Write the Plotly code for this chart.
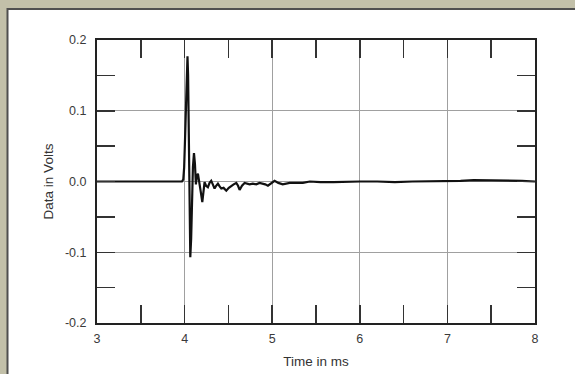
import plotly.graph_objects as go

# Time in ms and voltage readings
time_ms = [3.0, 3.5, 3.97, 3.985, 3.995, 4.005, 4.015, 4.025, 4.033, 4.040, 4.048,
           4.056, 4.065, 4.075, 4.085, 4.095, 4.107, 4.118, 4.129, 4.138, 4.152,
           4.171, 4.185, 4.202, 4.215, 4.228, 4.245, 4.266, 4.285, 4.304, 4.322,
           4.342, 4.36, 4.380, 4.40, 4.419, 4.445, 4.476, 4.505, 4.533, 4.56,
           4.590, 4.61, 4.628, 4.655, 4.685, 4.71, 4.742, 4.78, 4.818, 4.855,
           4.894, 4.92, 4.951, 4.99, 5.027, 5.07, 5.12, 5.2, 5.27, 5.35, 5.43,
           5.55, 5.7, 5.85, 6.0, 6.2, 6.4, 6.6, 6.8, 7.0, 7.15, 7.3, 7.45, 7.6,
           7.75, 7.85, 8.0]
volts = [0.0, 0.0, 0.0, 0.003, 0.02, 0.06, 0.11, 0.16, 0.177, 0.15, 0.06,
         -0.04, -0.107, -0.08, -0.02, 0.02, 0.040, 0.025, -0.004, 0.006, 0.011,
         -0.008, -0.015, -0.029, -0.012, -0.001, -0.006, -0.008, -0.002, 0.001, -0.004,
         -0.010, -0.006, -0.003, -0.007, -0.010, -0.009, -0.013, -0.009, -0.006, -0.004,
         -0.002, -0.006, -0.012, -0.006, -0.002, -0.003, -0.004, -0.003, -0.004, -0.002,
         -0.003, -0.004, -0.006, -0.003, 0.001, -0.002, -0.004, -0.002, -0.002, -0.002, 0.0,
         -0.001, -0.001, 0.0, 0.0, 0.0, -0.001, 0.0, 0.0, 0.0, 0.001, 0.002, 0.002, 0.002,
         0.002, 0.001, 0.0]

x_ticks = [3, 4, 5, 6, 7, 8]
x_tick_labels = ["3", "4", "5", "6", "7", "8"]
y_ticks = [-0.2, -0.1, 0.0, 0.1, 0.2]
y_tick_labels = ["-0.2", "-0.1", "0.0", "0.1", "0.2"]

W, H = 575, 374
L, R, T, B = 97, 40, 40, 51
pw, ph = W - L - R, H - T - B
TAN = "#c2c0a9"

fig = go.Figure()
fig.add_trace(go.Scatter(x=time_ms, y=volts, mode="lines",
                         line=dict(color="#111111", width=2.2), hoverinfo="skip"))

font = dict(family="Liberation Sans, Arial, sans-serif", size=12.5, color="#3a3a3a")

fig.update_layout(
    width=W, height=H,
    margin=dict(l=L, r=R, t=T, b=B),
    paper_bgcolor=TAN,
    plot_bgcolor="white",
    showlegend=False,
    font=font,
    xaxis=dict(range=[3, 8], tickvals=x_ticks, ticktext=x_tick_labels,
               ticks="inside", ticklen=18, tickwidth=1.5, tickcolor="#333333",
               ticklabelstandoff=3,
               showgrid=True, gridcolor="#a0a0a0", gridwidth=1,
               showline=True, linecolor="#222222", linewidth=2, mirror="ticks",
               zeroline=False, fixedrange=True, automargin=False,
               minor=dict(dtick=0.5, ticks="inside", ticklen=18, tickwidth=1.5,
                          tickcolor="#333333", showgrid=False),
               title=dict(text="Time in ms", font=dict(size=13.5, color="#333333"), standoff=12)),
    yaxis=dict(range=[-0.2, 0.2], tickvals=y_ticks, ticktext=y_tick_labels,
               ticks="inside", ticklen=18, tickwidth=1.5, tickcolor="#333333",
               ticklabelstandoff=6,
               showgrid=True, gridcolor="#a0a0a0", gridwidth=1,
               showline=True, linecolor="#222222", linewidth=2, mirror="ticks",
               zeroline=False, fixedrange=True, automargin=False,
               minor=dict(dtick=0.05, ticks="inside", ticklen=18, tickwidth=1.5,
                          tickcolor="#333333", showgrid=False),
               title=dict(text="Data in Volts", font=dict(size=13.5, color="#333333"), standoff=8)),
    shapes=[dict(type="rect", xref="paper", yref="paper", layer="below",
                 x0=(7.5 - L) / pw, x1=(W + 5 - L) / pw,
                 y0=-(H + 5 - T - ph) / ph, y1=1 + (T - 9) / ph,
                 fillcolor="white", line=dict(color="#4f4f4f", width=2))],
)

fig.write_html("out.html",
               config={"displayModeBar": False, "staticPlot": True},
               post_script="document.body.style.margin='0';"
                           "document.body.style.overflow='hidden';"
                           "document.body.style.background='" + TAN + "';")
